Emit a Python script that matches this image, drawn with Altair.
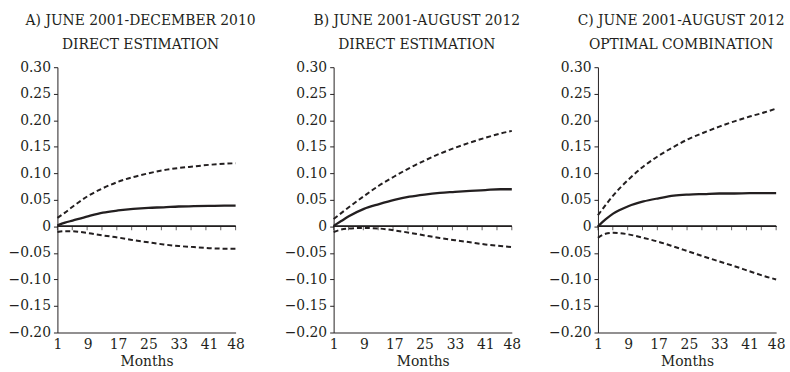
import altair as alt
import numpy as np
import pandas as pd

# Horizon (months) at which each response is recorded
months = [1, 3, 5, 9, 13, 17, 21, 25, 29, 33, 37, 41, 45, 48]

# Panel a) June 2001-December 2010, direct estimation
est_a = [0.002, 0.007, 0.011, 0.019, 0.026, 0.030, 0.033, 0.035, 0.036, 0.0375, 0.038, 0.0385, 0.039, 0.039]
upper_a = [0.016, 0.026, 0.037, 0.057, 0.072, 0.084, 0.093, 0.100, 0.106, 0.110, 0.113, 0.116, 0.118, 0.119]
lower_a = [-0.0105, -0.009, -0.0092, -0.0125, -0.017, -0.021, -0.026, -0.030, -0.034, -0.037, -0.039, -0.041, -0.042, -0.042]

# Panel b) June 2001-August 2012, direct estimation
est_b = [0.001, 0.010, 0.019, 0.033, 0.042, 0.050, 0.056, 0.060, 0.063, 0.065, 0.067, 0.0685, 0.070, 0.070]
upper_b = [0.014, 0.025, 0.036, 0.057, 0.077, 0.094, 0.110, 0.124, 0.137, 0.148, 0.158, 0.167, 0.175, 0.180]
lower_b = [-0.0105, -0.006, -0.004, -0.003, -0.004, -0.0075, -0.012, -0.017, -0.022, -0.026, -0.030, -0.034, -0.037, -0.039]

# Panel c) June 2001-August 2012, optimal combination
est_c = [0.000, 0.013, 0.024, 0.038, 0.047, 0.053, 0.058, 0.060, 0.061, 0.062, 0.062, 0.0625, 0.0625, 0.0625]
upper_c = [0.021, 0.040, 0.058, 0.088, 0.113, 0.133, 0.150, 0.165, 0.177, 0.188, 0.198, 0.207, 0.215, 0.222]
lower_c = [-0.0216, -0.014, -0.012, -0.015, -0.0216, -0.029, -0.038, -0.0475, -0.057, -0.066, -0.075, -0.0846, -0.094, -0.100]

titles = [
    ("A) JUNE 2001-DECEMBER 2010", "DIRECT ESTIMATION"),
    ("B) JUNE 2001-AUGUST 2012", "DIRECT ESTIMATION"),
    ("C) JUNE 2001-AUGUST 2012", "OPTIMAL COMBINATION"),
]

x_labels = [1, 9, 17, 25, 33, 41, 48]
y_ticks = [0.30, 0.25, 0.20, 0.15, 0.10, 0.05, 0.0, -0.05, -0.10, -0.15, -0.20]
zero_ticks = list(np.linspace(1, 48, 13))

FONT = "DejaVu Serif"
INK = "#231f20"

X_SCALE = alt.Scale(domain=[1, 48], nice=False, zero=False)
Y_SCALE = alt.Scale(domain=[-0.2, 0.3], nice=False, zero=False)


def panel(est, upper, lower, line1, line2):
    lines = pd.DataFrame({"month": months, "value": est})
    bands = pd.concat([
        pd.DataFrame({"month": months, "value": upper, "band": "upper"}),
        pd.DataFrame({"month": months, "value": lower, "band": "lower"}),
    ])
    ticks = pd.DataFrame({"month": zero_ticks})

    # tickCount is raised so that every listed value is kept
    x = alt.X(
        "month:Q", scale=X_SCALE,
        axis=alt.Axis(values=x_labels, tickCount=30, title="Months", ticks=False,
                      grid=False, labelFlush=False, labelOverlap=False,
                      labelPadding=5, titlePadding=3),
    )
    y = alt.Y(
        "value:Q", scale=Y_SCALE,
        axis=alt.Axis(values=y_ticks, tickCount=30, title=None, grid=False, tickSize=4,
                      labelPadding=3, labelOverlap=False, labelFlush=False,
                      labelExpr="datum.value == 0 ? '0' : format(datum.value, '.2f')"),
    )

    # the solid curve carries the axis definitions for the whole layer
    solid = alt.Chart(lines).mark_line(
        color=INK, strokeWidth=2.3, interpolate="monotone"
    ).encode(x=x, y=y)
    dashed = alt.Chart(bands).mark_line(
        color=INK, strokeWidth=2, strokeDash=[5, 3], interpolate="monotone"
    ).encode(x="month:Q", y="value:Q", detail="band:N")
    zero = alt.Chart(ticks).mark_rule(color=INK, strokeWidth=1).encode(
        y=alt.datum(0)
    )
    zticks = alt.Chart(ticks).mark_tick(
        orient="vertical", color=INK, size=4, thickness=1, yOffset=2
    ).encode(x="month:Q", y=alt.datum(0))

    return alt.layer(solid, dashed, zero, zticks).properties(
        width=180,
        height=268,
        title=alt.TitleParams(
            text=line1, subtitle=line2, anchor="middle", dx=-6,
            font=FONT, fontSize=14, fontWeight="normal", color=INK,
            subtitleFont=FONT, subtitleFontSize=14, subtitleColor=INK,
            subtitlePadding=11, offset=8,
        ),
    )


chart = alt.hconcat(
    panel(est_a, upper_a, lower_a, *titles[0]),
    panel(est_b, upper_b, lower_b, *titles[1]),
    panel(est_c, upper_c, lower_c, *titles[2]),
    spacing=28,
).properties(
    padding={"left": 8, "top": 12, "right": 5, "bottom": 2},
    background="white",
).configure_view(stroke=None).configure_axis(
    labelFont=FONT, titleFont=FONT, labelFontSize=14, titleFontSize=14,
    labelColor=INK, titleColor=INK, titleFontWeight="normal",
    domainColor=INK, tickColor=INK, domainWidth=1, labelOverlap=False,
)

chart.save("out.html", embed_options={"renderer": "svg", "actions": False})
